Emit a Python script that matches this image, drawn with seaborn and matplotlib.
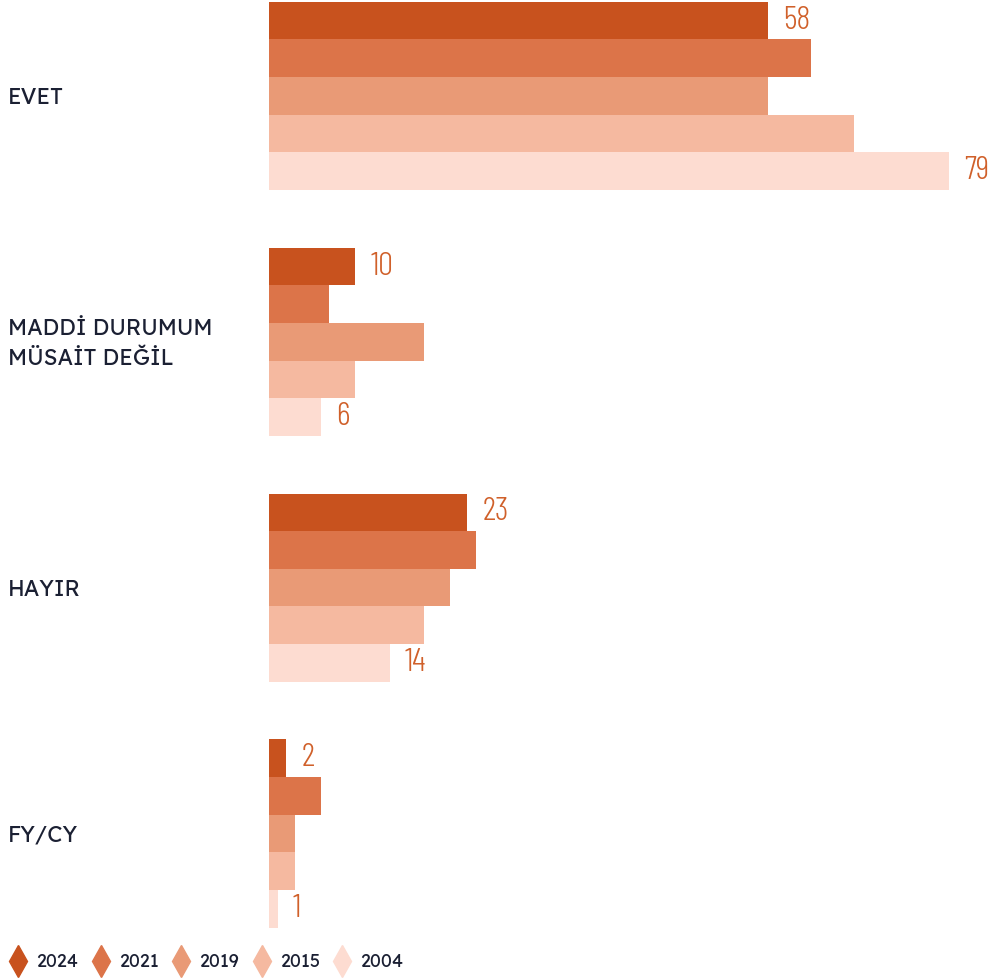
import pandas as pd
import matplotlib.pyplot as plt
import seaborn as sns
from matplotlib.lines import Line2D
from matplotlib.transforms import blended_transform_factory

categories = ['EVET', 'MADDİ DURUMUM\nMÜSAİT DEĞİL', 'HAYIR', 'FY/CY']
years = ['2024', '2021', '2019', '2015', '2004']

# değerler kategori sırasına göre
v2024 = [58, 10, 23, 2]
v2021 = [63, 7, 24, 6]
v2019 = [58, 18, 21, 3]
v2015 = [68, 10, 18, 3]
v2004 = [79, 6, 14, 1]

colors = ['#C8521E', '#DC7449', '#E99A76', '#F5B9A0', '#FDDCD1']

sns.set_theme(style='white')
plt.rcParams['font.family'] = ['Lexend', 'Montserrat', 'DejaVu Sans']

rows = []
for year, vals in zip(years, [v2024, v2021, v2019, v2015, v2004]):
    for cat, v in zip(categories, vals):
        rows.append({'kategori': cat, 'yil': year, 'deger': v})
df = pd.DataFrame(rows)

fig = plt.figure(figsize=(9.92, 9.8), dpi=100)
ax = fig.add_axes([269 / 992, 45 / 980, (992 - 269) / 992, 935 / 980])

sns.barplot(
    data=df,
    y='kategori',
    x='deger',
    hue='yil',
    order=categories,
    hue_order=years,
    palette=colors,
    orient='h',
    width=0.765,
    saturation=1,
    linewidth=0,
    legend=False,
    ax=ax
)

ax.set_xlim(0, 84)
ax.set_ylim(3.413, -0.39)
ax.set_xlabel('')
ax.set_ylabel('')
ax.set_xticks([])
ax.set_yticks([])
sns.despine(ax=ax, left=True, bottom=True)

# sadece 2024 ve 2004 için değer etiketleri
for i in [0, 4]:
    ax.bar_label(
        ax.containers[i],
        fmt='%d',
        padding=11,
        color='#D0602A',
        fontsize=24,
        family=['Barlow Condensed', 'DejaVu Sans'],
        fontweight=300
    )

trans = blended_transform_factory(fig.transFigure, ax.transData)
for i, cat in enumerate(categories):
    ax.text(8 / 992, i + 0.01, cat, transform=trans, ha='left', va='center',
            fontsize=16, color='#1B2033', fontweight=500, linespacing=1.45)

handles = [
    Line2D([0], [0], marker='d', linestyle='none', markersize=16,
           markerfacecolor=c, markeredgecolor=c, label=y)
    for c, y in zip(colors, years)
]
fig.legend(
    handles=handles,
    loc='center left',
    bbox_to_anchor=(-0.007, 18 / 980),
    ncol=5,
    frameon=False,
    fontsize=13,
    handlelength=1.0,
    handletextpad=0.5,
    columnspacing=0.75,
    labelcolor='#1B2033'
)

fig.savefig('out.png', dpi=100)
